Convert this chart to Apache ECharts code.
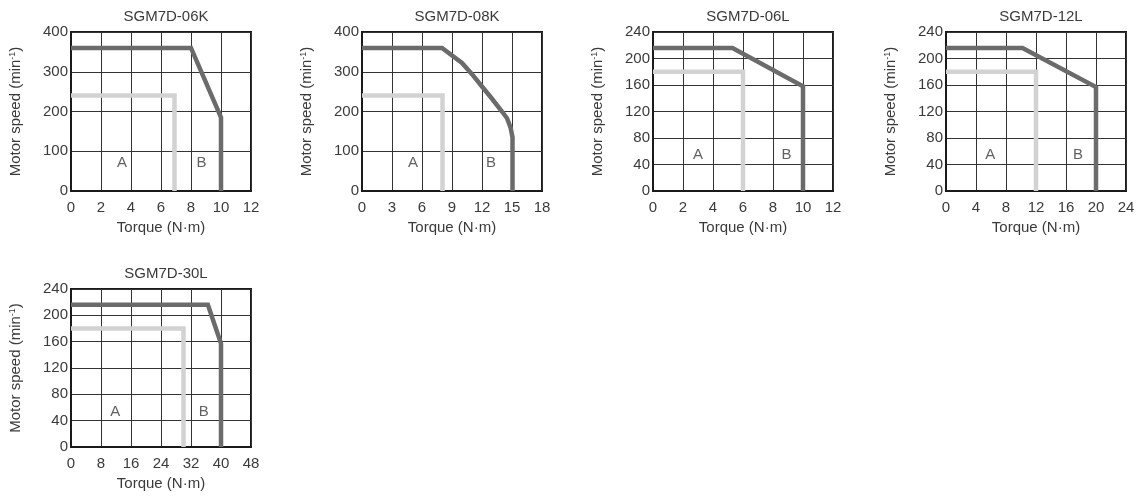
<!DOCTYPE html>
<html><head><meta charset="utf-8">
<script src="https://cdn.jsdelivr.net/npm/echarts@6/dist/echarts.min.js"></script>
<style>html,body{margin:0;padding:0;background:#fff}#c{width:1141px;height:497px}</style>
</head><body><div id="c"></div>
<script>
// ---- data ----
const titles = ['SGM7D-06K','SGM7D-08K','SGM7D-06L','SGM7D-12L','SGM7D-30L'];
const xMax = [12, 18, 12, 24, 48];
const xStep = [2, 3, 2, 4, 8];
const yMax = [400, 400, 240, 240, 240];
const yStep = [100, 100, 40, 40, 40];
// Region B (dark, intermittent duty) boundaries: [torque, speed]
const curveB_06K = [[0,360],[8,360],[10,185],[10,0]];
const curveB_08K = [[0,360],[8,360],[10,322],[11,294],[12,263],[13,232],[14,200],[14.5,183],[14.85,160],[15.05,135],[15.05,0]];
const curveB_06L = [[0,216],[5.3,216],[10,158],[10,0]];
const curveB_12L = [[0,216],[10.2,216],[20,157],[20,0]];
const curveB_30L = [[0,216],[36.5,216],[40,157],[40,0]];
// Region A (light, continuous duty) boundaries
const curveA_06K = [[0,240],[6.9,240],[6.9,0]];
const curveA_08K = [[0,240],[8.05,240],[8.05,0]];
const curveA_06L = [[0,180],[6,180],[6,0]];
const curveA_12L = [[0,180],[12,180],[12,0]];
const curveA_30L = [[0,180],[30,180],[30,0]];
// Region label positions [torque, speed]
const labelA = [[3.4,72],[5.1,72],[3.0,54],[5.9,54],[11.8,54]];
const labelB = [[8.7,72],[12.9,72],[8.9,54],[17.6,54],[35.4,54]];
const xName = 'Torque (N·m)';
const yName = 'Motor speed (min{s|-1})';

const curvesB = [curveB_06K, curveB_08K, curveB_06L, curveB_12L, curveB_30L];
const curvesA = [curveA_06K, curveA_08K, curveA_06L, curveA_12L, curveA_30L];

// ---- layout ----
const rects = [
  {left:71, top:32, width:180, height:159},
  {left:362, top:32, width:180, height:159},
  {left:653, top:32, width:180, height:159},
  {left:946, top:32, width:180, height:159},
  {left:71, top:289, width:180, height:158}
];
const txt = '#3a3a3a';
const font = 'Liberation Sans, Arial, sans-serif';
const fs = 15;
const grid = [], xAxis = [], yAxis = [], series = [], title = [];
rects.forEach((r, i) => {
  grid.push(Object.assign({show:true, borderColor:'#1a1a1a', borderWidth:2, backgroundColor:'transparent', containLabel:false}, r));
  title.push({text: titles[i], left: r.left + r.width/2, top: r.top - 28, textAlign:'center',
    textStyle:{fontSize:fs, fontWeight:'normal', color:txt, fontFamily:font}});
  xAxis.push({type:'value', gridIndex:i, min:0, max:xMax[i], interval:xStep[i],
    name:xName, nameLocation:'middle', nameGap:29,
    nameTextStyle:{fontSize:fs, color:txt, fontFamily:font},
    axisLine:{show:true, lineStyle:{color:'#1a1a1a', width:2}},
    axisTick:{show:false},
    axisLabel:{fontSize:fs, color:txt, fontFamily:font, margin:9},
    splitLine:{show:true, lineStyle:{color:'#333', width:1}}});
  yAxis.push({type:'value', gridIndex:i, min:0, max:yMax[i], interval:yStep[i],
    name:yName, nameLocation:'middle', nameGap:47, nameRotate:90,
    nameTextStyle:{fontSize:fs, color:txt, fontFamily:font,
      rich:{s:{fontSize:9, color:txt, fontFamily:font, verticalAlign:'top', padding:[0,0,7,0]}}},
    axisLine:{show:true, lineStyle:{color:'#1a1a1a', width:2}},
    axisTick:{show:false},
    axisLabel:{fontSize:fs, color:txt, fontFamily:font, margin:3},
    splitLine:{show:true, lineStyle:{color:'#333', width:1}}});
  series.push({type:'line', xAxisIndex:i, yAxisIndex:i, data:curvesA[i], showSymbol:false, symbol:'none',
    lineStyle:{color:'#d2d2d2', width:4.5, join:'miter', cap:'butt'}, z:3, silent:true});
  series.push({type:'line', xAxisIndex:i, yAxisIndex:i, data:curvesB[i], showSymbol:false, symbol:'none',
    lineStyle:{color:'#6b6b6b', width:4.5, join:'miter', cap:'butt'}, z:4, silent:true});
  series.push({type:'scatter', xAxisIndex:i, yAxisIndex:i, symbolSize:0, silent:true, z:5,
    data:[{value:labelA[i], name:'A'},{value:labelB[i], name:'B'}],
    label:{show:true, position:'inside', formatter:'{b}', fontSize:fs, color:txt, fontFamily:font}});
});
const chart = echarts.init(document.getElementById('c'), null, {renderer:'canvas'});
chart.setOption({animation:false, backgroundColor:'#fff', title, grid, xAxis, yAxis, series});
</script></body></html>
